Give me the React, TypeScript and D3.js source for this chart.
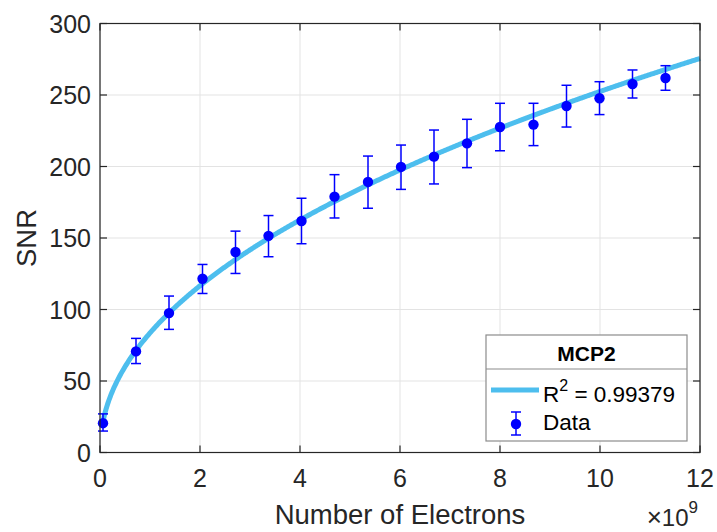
import React from 'react';
import * as d3 from 'd3';

const width = 717;
const height = 532;
const margin = { top: 23.5, right: 17, bottom: 79.5, left: 100 };

// number of electrons, in units of 1e9
const electrons = [0.06, 0.72, 1.38, 2.05, 2.71, 3.37, 4.03, 4.69, 5.36, 6.02, 6.68, 7.34, 8.0, 8.67, 9.33, 9.99, 10.65, 11.31];
const snr = [20.5, 70.7, 97.5, 121.5, 140.2, 151.5, 161.9, 178.9, 189.2, 199.7, 206.9, 216.2, 227.6, 229.3, 242.3, 247.7, 257.7, 261.9];
const errLow = [15, 62.2, 86.1, 111.2, 125.2, 136.9, 146, 164, 170.8, 184, 187.8, 199.2, 211, 214.6, 227.6, 236.3, 247.9, 253.3];
const errHigh = [27, 79.8, 109.4, 131.5, 154.8, 165.7, 177.8, 194.3, 207.3, 215, 225.5, 233, 244.2, 244.2, 256.8, 259.3, 267.5, 270.5];

// power-law fit SNR = a * N^b (N in 1e9)
const fitA = 83.6;
const fitB = 0.48;
const fitLabel = '0.99379';

const xTicks = [0, 2, 4, 6, 8, 10, 12];
const yTicks = [0, 50, 100, 150, 200, 250, 300];

const font = '"Liberation Sans", Arial, Helvetica, sans-serif';
const axisColor = '#262626';
const gridColor = '#e3e3e3';
const fitColor = '#4DBEEE';
const dataColor = '#0000FF';

export default function App() {
  const x = d3.scaleLinear().domain([0, 12]).range([margin.left, width - margin.right]);
  const y = d3.scaleLinear().domain([0, 300]).range([height - margin.bottom, margin.top]);

  const fitPts = d3.range(electrons[0], 12.0001, 0.02).map(n => [n, fitA * Math.pow(n, fitB)] as [number, number]);
  const fitPath = d3.line<[number, number]>().x(d => x(d[0])).y(d => y(d[1]))(fitPts) || '';

  const x0 = x(0), x1 = x(12), y0 = y(0), y1 = y(300);
  const tick = 7;
  const cap = 5;

  // legend box
  const lg = { left: 486, top: 335, right: 687, bottom: 441, sep: 369 };

  return (
    <svg width={width} height={height} style={{ position: 'absolute', left: 0, top: 0, background: 'white' }} fontFamily={font}>
      {/* grid */}
      {xTicks.map(t => (
        <line key={'gx' + t} x1={x(t)} x2={x(t)} y1={y0} y2={y1} stroke={gridColor} strokeWidth={1} />
      ))}
      {yTicks.map(t => (
        <line key={'gy' + t} x1={x0} x2={x1} y1={y(t)} y2={y(t)} stroke={gridColor} strokeWidth={1} />
      ))}

      {/* fit curve */}
      <path d={fitPath} fill="none" stroke={fitColor} strokeWidth={5} />

      {/* data with error bars */}
      {electrons.map((n, i) => (
        <g key={'p' + i} stroke={dataColor} strokeWidth={1.5}>
          <line x1={x(n)} x2={x(n)} y1={y(errLow[i])} y2={y(errHigh[i])} />
          <line x1={x(n) - cap} x2={x(n) + cap} y1={y(errLow[i])} y2={y(errLow[i])} />
          <line x1={x(n) - cap} x2={x(n) + cap} y1={y(errHigh[i])} y2={y(errHigh[i])} />
          <circle cx={x(n)} cy={y(snr[i])} r={5.2} fill={dataColor} stroke="none" />
        </g>
      ))}

      {/* box and ticks */}
      <rect x={x0} y={y1} width={x1 - x0} height={y0 - y1} fill="none" stroke={axisColor} strokeWidth={1.2} />
      {xTicks.map(t => (
        <g key={'tx' + t} stroke={axisColor} strokeWidth={1.2}>
          <line x1={x(t)} x2={x(t)} y1={y0} y2={y0 - tick} />
          <line x1={x(t)} x2={x(t)} y1={y1} y2={y1 + tick} />
        </g>
      ))}
      {yTicks.map(t => (
        <g key={'ty' + t} stroke={axisColor} strokeWidth={1.2}>
          <line x1={x0} x2={x0 + tick} y1={y(t)} y2={y(t)} />
          <line x1={x1} x2={x1 - tick} y1={y(t)} y2={y(t)} />
        </g>
      ))}

      {/* tick labels */}
      {xTicks.map(t => (
        <text key={'lx' + t} x={x(t)} y={487} textAnchor="middle" fontSize={25} fill={axisColor}>{t}</text>
      ))}
      {yTicks.map(t => (
        <text key={'ly' + t} x={91} y={y(t)} dy="0.36em" textAnchor="end" fontSize={25} fill={axisColor}>{t}</text>
      ))}

      {/* axis labels */}
      <text x={(x0 + x1) / 2} y={524} textAnchor="middle" fontSize={27.5} fill={axisColor}>Number of Electrons</text>
      <text transform={`translate(36,${(y0 + y1) / 2}) rotate(-90)`} textAnchor="middle" fontSize={27.5} fill={axisColor}>SNR</text>
      <text x={698} y={526} textAnchor="end" fontSize={24} fill={axisColor}>
        <tspan fontSize={26} fontWeight={300}>×</tspan>
        <tspan>10</tspan>
        <tspan fontSize={17} dy={-13}>9</tspan>
      </text>

      {/* legend */}
      <rect x={lg.left} y={lg.top} width={lg.right - lg.left} height={lg.bottom - lg.top} fill="white" stroke="#8c8c8c" strokeWidth={1.2} />
      <line x1={lg.left} x2={lg.right} y1={lg.sep} y2={lg.sep} stroke="#8c8c8c" strokeWidth={1.2} />
      <text x={(lg.left + lg.right) / 2} y={361} textAnchor="middle" fontSize={21} fontWeight="bold" fill="#000">MCP2</text>
      <line x1={491} x2={539} y1={390} y2={390} stroke={fitColor} strokeWidth={5} />
      <text x={543} y={401.5} fontSize={22.5} fill="#000">
        <tspan>R</tspan>
        <tspan fontSize={16} dy={-11}>2</tspan>
        <tspan dy={11}>{' = ' + fitLabel}</tspan>
      </text>
      <g stroke={dataColor} strokeWidth={1.5}>
        <line x1={516} x2={516} y1={412} y2={435} />
        <line x1={511} x2={521} y1={412} y2={412} />
        <line x1={511} x2={521} y1={435} y2={435} />
        <circle cx={516} cy={424} r={5.2} fill={dataColor} stroke="none" />
      </g>
      <text x={543} y={430} fontSize={22.5} fill="#000">Data</text>
    </svg>
  );
}
